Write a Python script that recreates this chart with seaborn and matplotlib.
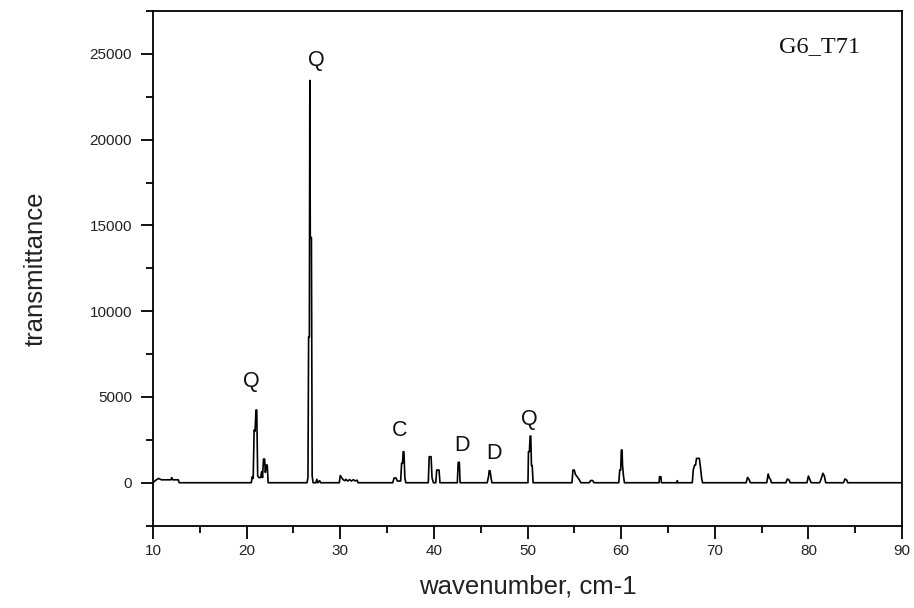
import matplotlib
matplotlib.use("Agg")
import matplotlib.pyplot as plt
from matplotlib.ticker import MultipleLocator
import seaborn as sns
import pandas as pd

# Diffraction trace (sample G6_T71): position and intensity of each vertex
wavenumber = [
    10.0, 10.3, 10.6, 10.9, 11.9, 12.0, 12.1, 12.7, 12.8,
    20.5, 20.6, 20.7, 20.8, 20.9, 21.0, 21.08, 21.18, 21.3, 21.5, 21.6, 21.7,
    21.8, 21.92, 22.0, 22.1, 22.2, 22.3,
    26.45, 26.55, 26.62, 26.7, 26.75, 26.8, 26.92, 27.0, 27.1,
    27.4, 27.5, 27.6, 27.8, 27.9,
    29.9, 30.0, 30.15, 30.3, 30.5, 30.6, 30.8, 31.0, 31.2, 31.4, 31.6, 31.8, 31.9,
    35.6, 35.75, 35.95, 36.1, 36.45, 36.55, 36.65, 36.72, 36.8, 36.9, 37.0,
    39.4, 39.5, 39.7, 39.8, 39.95, 40.2, 40.3, 40.55, 40.65,
    42.5, 42.6, 42.72, 42.8,
    45.7, 45.85, 45.9, 46.0, 46.1, 46.2,
    50.05, 50.1, 50.2, 50.28, 50.35, 50.42, 50.5, 50.6,
    54.75, 54.85, 55.0, 55.1, 55.3, 55.5, 55.7,
    56.6, 56.75, 56.95, 57.1,
    59.75, 59.85, 59.95, 60.02, 60.1, 60.15, 60.25, 60.35,
    64.05, 64.1, 64.25, 64.3,
    65.95, 66.0, 66.05,
    67.6, 67.7, 67.85, 67.95, 68.05, 68.35, 68.45, 68.6, 68.7,
    73.35, 73.5, 73.65, 73.8,
    75.55, 75.7, 75.85, 75.95, 76.05,
    77.6, 77.75, 77.95, 78.05,
    79.85, 80.0, 80.15, 80.3,
    81.2, 81.35, 81.55, 81.7, 81.85,
    83.75, 83.9, 84.1, 84.2,
    90.0,
]
transmittance = [
    0, 150, 250, 170, 170, 300, 170, 170, 0,
    0, 350, 250, 3070, 3000, 4240, 4240, 400, 300, 300, 650, 300,
    1380, 1380, 600, 1030, 1030, 0,
    0, 300, 8500, 8500, 23450, 14300, 14300, 400, 0,
    0, 200, 0, 120, 0,
    0, 420, 300, 180, 120, 200, 100, 180, 100, 180, 100, 150, 0,
    0, 270, 280, 100, 100, 1130, 1130, 1810, 1810, 300, 0,
    0, 1520, 1520, 300, 0, 0, 740, 740, 0,
    0, 1190, 1190, 0,
    0, 400, 700, 700, 300, 0,
    0, 1810, 1810, 2720, 2720, 1000, 1000, 0,
    0, 740, 740, 500, 350, 200, 0,
    0, 130, 130, 0,
    0, 740, 740, 1910, 1910, 1000, 400, 0,
    0, 350, 350, 0,
    0, 120, 0,
    0, 740, 1030, 1030, 1420, 1420, 1000, 250, 0,
    0, 310, 200, 0,
    0, 510, 250, 200, 0,
    0, 220, 150, 0,
    0, 390, 200, 0,
    0, 200, 550, 400, 0,
    0, 220, 150, 0,
    0,
]

# Phase labels: Q = quartz, C = calcite, D = dolomite
peak_labels = ["Q", "Q", "C", "D", "D", "Q"]
label_x = [20.5, 27.45, 36.3, 43.05, 46.4, 50.23]
label_y = [5900, 24600, 3050, 2150, 1700, 3700]

sample_name = "G6_T71"

df = pd.DataFrame({"wavenumber": wavenumber, "transmittance": transmittance})

sns.set_theme(style="ticks")
plt.rcParams["font.family"] = ["Liberation Sans", "DejaVu Sans"]

fig = plt.figure(figsize=(9.14, 6.08), dpi=100)
ax = fig.add_axes([0.1674, 0.1355, 0.8195, 0.8464])

sns.lineplot(data=df, x="wavenumber", y="transmittance", ax=ax,
             estimator=None, sort=False, color="black", linewidth=1.2)

ax.set_xlim(10, 90)
ax.set_ylim(-2500, 27500)
ax.xaxis.set_major_locator(MultipleLocator(10))
ax.xaxis.set_minor_locator(MultipleLocator(5))
ax.yaxis.set_major_locator(MultipleLocator(5000))
ax.yaxis.set_minor_locator(MultipleLocator(2500))

for side in ["left", "right", "top", "bottom"]:
    ax.spines[side].set_visible(True)
    ax.spines[side].set_linewidth(1.3)
    ax.spines[side].set_color("black")

ax.tick_params(axis="both", which="major", direction="out", length=9,
               width=1.3, color="black", labelsize=11, labelcolor="#222222")
ax.tick_params(axis="y", which="major", pad=6)
ax.tick_params(axis="x", which="major", pad=4)
ax.tick_params(axis="both", which="minor", direction="out", length=5,
               width=1.3, color="black")
ax.tick_params(top=False, right=False, which="both")

ax.set_xlabel("wavenumber, cm-1", fontsize=18.5, color="#222222", labelpad=12)
ax.set_ylabel("transmittance", fontsize=18.5, color="#222222", labelpad=30)

for lbl, lx, ly in zip(peak_labels, label_x, label_y):
    ax.text(lx, ly, lbl, ha="center", va="center", fontsize=15.5, color="#111111")

ax.text(0.8905, 0.93, sample_name, transform=ax.transAxes, ha="center",
        va="center", fontsize=17.5, family=["Liberation Serif", "DejaVu Serif"],
        color="#111111")

ax.grid(False)
fig.savefig("out.png", dpi=100)
